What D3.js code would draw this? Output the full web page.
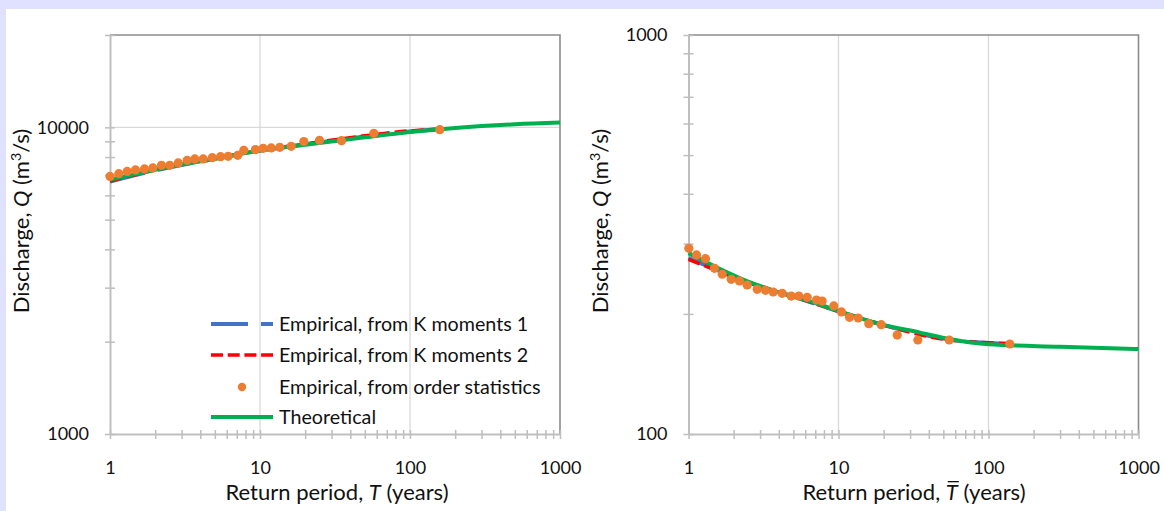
<!DOCTYPE html>
<html><head><meta charset="utf-8">
<script src="https://cdn.jsdelivr.net/npm/d3@7"></script>
<style>
body{margin:0;background:#fff;}
svg{display:block;}
text{font-family:Lato,"Open Sans",sans-serif;fill:#111;}
</style>
</head><body>
<svg id="chart" width="1164" height="511"></svg>
<script>
// ---------- DATA ----------
const xTickValues = [1, 10, 100, 1000];
const xTickLabels = ["1", "10", "100", "1000"];
const leftYTickValues = [1000, 10000];
const leftYTickLabels = ["1000", "10000"];
const rightYTickValues = [100, 1000];
const rightYTickLabels = ["100", "1000"];

const legendLabels = ["Empirical, from K moments 1", "Empirical, from K moments 2",
  "Empirical, from order statistics", "Theoretical"];

// Left panel (T)
const leftOrderT = [1.00,1.145,1.302,1.479,1.698,1.929,2.204,2.504,2.849,3.271,3.675,4.181,4.801,5.454,6.138,7.112,7.798,9.333,10.5,11.88,13.55,16.14,19.59,24.93,34.94,57.37,158];
const leftOrderQ = [6918,7063,7183,7261,7316,7371,7516,7516,7654,7805,7887,7887,7964,8023,8042,8103,8413,8458,8540,8566,8606,8670,8982,9070,9049,9559,9828];
const leftK1T = [1, 1.5, 2, 3, 5, 10, 20, 50, 100, 158];
const leftK1Q = [6650, 7000, 7240, 7540, 7890, 8390, 8800, 9330, 9690, 9850];
const leftK2T = [1, 1.5, 2, 3, 5, 10, 20, 50, 100, 158];
const leftK2Q = [6680, 7020, 7260, 7560, 7910, 8410, 8830, 9380, 9740, 9870];
const leftTheoT = [1, 1.5, 2, 3, 5, 7, 10, 20, 50, 100, 200, 500, 1000];
const leftTheoQ = [6750, 7050, 7270, 7560, 7900, 8150, 8400, 8780, 9280, 9650, 9950, 10230, 10360];

// Right panel (T-bar)
const rightOrderT = [1.005,1.131,1.298,1.491,1.678,1.926,2.188,2.462,2.871,3.262,3.671,4.214,4.838,5.437,6.184,7.133,7.785,9.304,10.47,11.84,13.53,15.92,19.27,24.62,33.8,54.7,138.7];
const rightOrderQ = [292,281,275.1,260.2,251.4,244.2,241.9,236.3,230.5,229.1,226.9,225.2,221.7,221.7,220.1,216.7,215.4,209.4,202.3,196.1,195.3,189,187.9,177,172,172,168.1];
const rightK1T = [1, 1.5, 2.5, 5, 10, 20, 55, 139];
const rightK1Q = [276, 259, 240, 221, 203, 187.5, 172.5, 168];
const rightK2T = [1, 1.5, 2.5, 5, 10, 20, 55, 139];
const rightK2Q = [274, 258, 239.5, 221, 203, 187.5, 172, 168.5];
const rightTheoT = [1, 1.5, 2.5, 4, 7, 10, 19, 35, 55, 100, 300, 1000];
const rightTheoQ = [284, 263, 241, 226.5, 213, 203.4, 188.5, 179.5, 173, 167.8, 165.5, 163.3];

// ---------- STYLE ----------
const C = {blue:"#4472C4", red:"#FF0000", orange:"#ED7D31", green:"#00B050",
  grid:"#d9d9d9", axis:"#bfbfbf", border:"#8c8c8c", bg:"#E0E0FF"};
const FS_TICK = 18, FS_LEG = 19.7, FS_TITLE = 22;

const svg = d3.select("#chart");
svg.append("rect").attr("x",0).attr("y",0).attr("width",1164).attr("height",9).attr("fill",C.bg);
svg.append("rect").attr("x",0).attr("y",0).attr("width",6).attr("height",511).attr("fill",C.bg);

function panel(cfg){
  const x = d3.scaleLog().domain([1,1000]).range([cfg.x0, cfg.x1]);
  const y = d3.scaleLog().domain(cfg.yDomain).range([434, 35]);
  const g = svg.append("g");

  // gridlines
  g.append("g").selectAll("line").data([10,100]).join("line")
    .attr("x1",d=>x(d)).attr("x2",d=>x(d)).attr("y1",35).attr("y2",434)
    .attr("stroke",C.grid).attr("stroke-width",1.3);
  g.append("g").selectAll("line").data(cfg.yGrid).join("line")
    .attr("x1",cfg.x0).attr("x2",cfg.x1).attr("y1",d=>y(d)).attr("y2",d=>y(d))
    .attr("stroke",C.grid).attr("stroke-width",1.3);

  // top / right border
  g.append("path").attr("d",`M${cfg.x0},35H${cfg.x1}V434`).attr("fill","none")
    .attr("stroke",C.border).attr("stroke-width",1.6);

  // y axis ticks (crossing)
  const yAll = y.ticks().filter(v=>v>=cfg.yDomain[0] && v<=cfg.yDomain[1]);
  const ya = g.append("g").attr("transform",`translate(${cfg.x0},0)`)
    .call(d3.axisLeft(y).tickValues(yAll).tickSize(10).tickSizeOuter(0).tickFormat(""));
  ya.select(".domain").attr("stroke",C.axis).attr("stroke-width",2);
  ya.selectAll(".tick line").attr("transform","translate(5,0)").attr("stroke",C.axis).attr("stroke-width",1.5);
  const yl = g.append("g").attr("transform",`translate(${cfg.x0},0)`)
    .call(d3.axisLeft(y).tickValues(cfg.yTickValues).tickSize(0).tickPadding(21)
      .tickFormat((d,i)=>cfg.yTickLabels[i]));
  yl.select(".domain").remove();
  yl.selectAll("text").attr("font-size",FS_TICK).attr("font-family","Lato").attr("fill","#111");

  // x axis ticks (crossing)
  const xAll = x.ticks();
  const xa = g.append("g").attr("transform",`translate(0,434)`)
    .call(d3.axisBottom(x).tickValues(xAll).tickSize(9).tickSizeOuter(0).tickFormat(""));
  xa.select(".domain").attr("stroke",C.axis).attr("stroke-width",2);
  xa.selectAll(".tick line").attr("transform","translate(0,-4)").attr("stroke",C.axis).attr("stroke-width",1.5);
  const xl = g.append("g").attr("transform",`translate(0,434)`)
    .call(d3.axisBottom(x).tickValues(xTickValues).tickSize(0).tickPadding(27)
      .tickFormat((d,i)=>xTickLabels[i]));
  xl.select(".domain").remove();
  xl.selectAll("text").attr("font-size",FS_TICK).attr("font-family","Lato").attr("fill","#111");

  // axis titles
  const prefix = "Return period, ";
  const xt = svg.append("text").attr("x",cfg.xTitleX).attr("y",500)
    .attr("text-anchor","middle").attr("font-size",FS_TITLE);
  xt.append("tspan").text(prefix);
  xt.append("tspan").attr("font-style","italic").text("T");
  xt.append("tspan").text(" (years)");
  if (cfg.bar) {
    const node = xt.node();
    const ext = node.getExtentOfChar(prefix.length);
    const yb = 500 - FS_TITLE*0.72 - 2.5;
    svg.append("line").attr("x1",ext.x+2).attr("x2",ext.x+ext.width+1)
      .attr("y1",yb).attr("y2",yb).attr("stroke","#111").attr("stroke-width",1.3);
  }

  const yt = svg.append("text").attr("transform",`translate(${cfg.yTitleX},221) rotate(-90)`)
    .attr("text-anchor","middle").attr("font-size",FS_TITLE);
  yt.append("tspan").text("Discharge, ");
  yt.append("tspan").attr("font-style","italic").text("Q");
  yt.append("tspan").text(" (m");
  yt.append("tspan").attr("font-size",FS_TITLE*0.65).attr("dy",-8).text("3");
  yt.append("tspan").attr("dy",8).text("/s)");

  // series
  const line = d3.line().x(d=>x(d[0])).y(d=>y(d[1])).curve(d3.curveMonotoneX);
  const zip = (a,b)=>a.map((v,i)=>[v,b[i]]);
  g.append("path").datum(zip(cfg.k1T,cfg.k1Q)).attr("d",line).attr("fill","none")
    .attr("stroke",C.blue).attr("stroke-width",4).attr("stroke-dasharray","36,13");
  g.append("path").datum(zip(cfg.k2T,cfg.k2Q)).attr("d",line).attr("fill","none")
    .attr("stroke",C.red).attr("stroke-width",3.5).attr("stroke-dasharray","12,5");
  g.append("path").datum(zip(cfg.thT,cfg.thQ)).attr("d",line).attr("fill","none")
    .attr("stroke",C.green).attr("stroke-width",4);
  g.append("g").selectAll("circle").data(zip(cfg.oT,cfg.oQ)).join("circle")
    .attr("cx",d=>x(d[0])).attr("cy",d=>y(d[1])).attr("r",4.6).attr("fill",C.orange);
  return g;
}

panel({x0:110, x1:560, yDomain:[1000,20000], yGrid:[10000],
  yTickValues:leftYTickValues, yTickLabels:leftYTickLabels,
  xTitleX:337, yTitleX:29, bar:false,
  oT:leftOrderT, oQ:leftOrderQ, k1T:leftK1T, k1Q:leftK1Q, k2T:leftK2T, k2Q:leftK2Q,
  thT:leftTheoT, thQ:leftTheoQ});

panel({x0:688.5, x1:1138.5, yDomain:[100,1000], yGrid:[],
  yTickValues:rightYTickValues, yTickLabels:rightYTickLabels,
  xTitleX:914, yTitleX:608, bar:true,
  oT:rightOrderT, oQ:rightOrderQ, k1T:rightK1T, k1Q:rightK1Q, k2T:rightK2T, k2Q:rightK2Q,
  thT:rightTheoT, thQ:rightTheoQ});

// legend (left panel)
const lg = svg.append("g");
const rows = [324, 355, 387, 417];
lg.append("line").attr("x1",211).attr("x2",273).attr("y1",rows[0]).attr("y2",rows[0])
  .attr("stroke",C.blue).attr("stroke-width",4).attr("stroke-dasharray","37,13");
lg.append("line").attr("x1",211).attr("x2",273).attr("y1",rows[1]).attr("y2",rows[1])
  .attr("stroke",C.red).attr("stroke-width",3.5).attr("stroke-dasharray","12,4.7");
lg.append("circle").attr("cx",242).attr("cy",rows[2]).attr("r",4.2).attr("fill",C.orange);
lg.append("line").attr("x1",211).attr("x2",273).attr("y1",rows[3]).attr("y2",rows[3])
  .attr("stroke",C.green).attr("stroke-width",4);
lg.selectAll("text.leg").data(legendLabels).join("text").attr("class","leg")
  .attr("x",279).attr("y",(d,i)=>rows[i]).attr("dy","0.35em").attr("font-size",FS_LEG).text(d=>d);
</script>
</body></html>
